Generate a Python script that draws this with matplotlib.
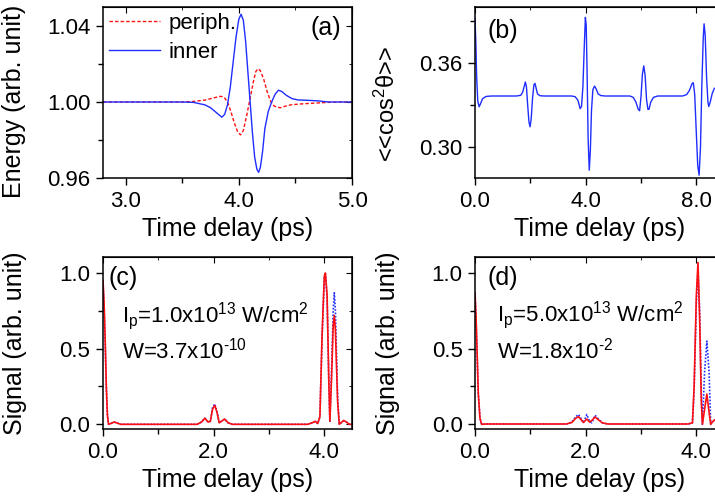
import matplotlib
matplotlib.use("Agg")
import matplotlib.pyplot as plt
from matplotlib.ticker import MultipleLocator

plt.rcParams['font.family'] = ['Liberation Sans', 'DejaVu Sans']
plt.rcParams['mathtext.fontset'] = 'custom'
plt.rcParams['mathtext.rm'] = 'Liberation Sans'
plt.rcParams['mathtext.it'] = 'Liberation Sans:italic'
plt.rcParams['mathtext.default'] = 'regular'

# (a) energy of peripheral / inner molecules
t_a_inner = [2.8, 3.5, 3.6, 3.7, 3.75, 3.8, 3.85, 3.875, 3.9, 3.925, 3.95, 3.975, 4.0, 4.02,
             4.04, 4.06, 4.08, 4.1, 4.12, 4.14, 4.16, 4.175, 4.19, 4.21, 4.23, 4.26, 4.29,
             4.32, 4.35, 4.38, 4.42, 4.47, 4.52, 4.6, 4.7, 4.76, 4.8, 5.0]
e_inner = [1.0, 1.0, 0.9998, 0.9985, 0.997, 0.9945, 0.992, 0.9935, 0.9985, 1.008, 1.021,
           1.034, 1.0435, 1.0462, 1.043, 1.032, 1.016, 1.0, 0.984, 0.971, 0.9645, 0.963,
           0.9655, 0.974, 0.986, 0.995, 1.0, 1.004, 1.0062, 1.0055, 1.0035, 1.0018, 1.0011,
           1.0009, 1.0006, 1.0002, 1.0, 1.0]
t_a_periph = [2.8, 3.5, 3.6, 3.7, 3.78, 3.84, 3.87, 3.9, 3.93, 3.96, 3.99, 4.015, 4.04, 4.07,
              4.1, 4.13, 4.15, 4.17, 4.19, 4.22, 4.25, 4.28, 4.31, 4.34, 4.37, 4.41, 4.46,
              4.55, 4.7, 4.85, 5.0]
e_periph = [1.0, 1.0, 1.0003, 1.001, 1.0022, 1.003, 1.0025, 1.0, 0.995, 0.989, 0.9842,
            0.9827, 0.985, 0.993, 1.002, 1.011, 1.016, 1.0175, 1.0165, 1.012, 1.0055,
            1.0005, 0.998, 0.9972, 0.997, 0.9978, 0.9985, 0.999, 0.9995, 1.0, 1.0]

# (b) alignment <<cos^2 theta>>
t_b = [0.0, 0.03, 0.06, 0.1, 0.15, 0.2, 0.27, 0.4, 0.6, 1.5, 1.65, 1.72, 1.78, 1.82, 1.86,
       1.9, 1.95, 1.99, 2.03, 2.08, 2.13, 2.17, 2.21, 2.26, 2.35, 2.5, 3.5, 3.62, 3.72, 3.8,
       3.85, 3.9, 3.95, 3.99, 4.02, 4.05, 4.09, 4.13, 4.17, 4.21, 4.26, 4.32, 4.38, 4.45,
       4.55, 4.7, 5.6, 5.72, 5.82, 5.9, 5.95, 6.0, 6.05, 6.1, 6.15, 6.2, 6.25, 6.29, 6.35,
       6.45, 6.6, 7.5, 7.65, 7.75, 7.85, 7.89, 7.94, 8.0, 8.05, 8.1, 8.15, 8.2, 8.25, 8.28,
       8.32, 8.37, 8.42, 8.45, 8.5, 8.57, 8.65]
cos2 = [0.392, 0.375, 0.35, 0.333, 0.3288, 0.331, 0.3345, 0.3362, 0.3365, 0.3365, 0.337,
        0.339, 0.3435, 0.3465, 0.343, 0.331, 0.318, 0.3145, 0.32, 0.335, 0.3445, 0.3455,
        0.342, 0.338, 0.3367, 0.3365, 0.3365, 0.336, 0.3335, 0.3275, 0.329, 0.343, 0.372,
        0.3926, 0.387, 0.355, 0.305, 0.2836, 0.298, 0.326, 0.341, 0.3436, 0.3415, 0.338,
        0.3368, 0.3365, 0.3365, 0.3355, 0.332, 0.327, 0.326, 0.336, 0.352, 0.358, 0.351,
        0.334, 0.327, 0.327, 0.332, 0.3355, 0.3365, 0.3365, 0.3375, 0.3405, 0.3455, 0.346,
        0.338, 0.31, 0.287, 0.28, 0.30, 0.345, 0.378, 0.388, 0.38, 0.35, 0.332, 0.329, 0.332,
        0.338, 0.342]

# (c) signal, Ip = 1.0e13 W/cm^2
t_c = [0.0, 0.02, 0.04, 0.06, 0.08, 0.1, 0.14, 0.2, 0.26, 0.32, 1.7, 1.78, 1.84, 1.9, 1.94,
       1.98, 2.02, 2.06, 2.1, 2.14, 2.2, 2.26, 2.34, 3.7, 3.78, 3.84, 3.88, 3.92, 3.96, 4.0,
       4.02, 4.05, 4.08, 4.1, 4.13, 4.16, 4.18, 4.2, 4.24, 4.27, 4.3, 4.35, 4.4, 4.45, 4.5]
sig_c_red = [0.95, 0.8, 0.55, 0.25, 0.06, 0.0, 0.005, 0.015, 0.008, 0.0, 0.0, 0.015, 0.04,
             0.015, 0.02, 0.1, 0.125, 0.08, 0.01, 0.02, 0.035, 0.01, 0.0, 0.0, 0.01, 0.02,
             0.005, 0.05, 0.6, 0.98, 1.0, 0.85, 0.3, 0.02, 0.3, 0.65, 0.72, 0.62, 0.15, 0.0,
             0.01, 0.025, 0.015, 0.0, 0.0]
sig_c_blue = [0.93, 0.78, 0.53, 0.24, 0.06, 0.0, 0.005, 0.015, 0.008, 0.0, 0.0, 0.015, 0.04,
              0.015, 0.02, 0.11, 0.135, 0.085, 0.01, 0.02, 0.035, 0.01, 0.0, 0.0, 0.01, 0.02,
              0.005, 0.05, 0.58, 0.97, 0.99, 0.84, 0.3, 0.02, 0.35, 0.75, 0.87, 0.75, 0.18,
              0.0, 0.01, 0.025, 0.015, 0.0, 0.0]

# (d) signal, Ip = 5.0e13 W/cm^2
t_d = [0.0, 0.02, 0.04, 0.06, 0.09, 0.12, 0.2, 1.65, 1.75, 1.82, 1.87, 1.92, 1.96, 2.02,
       2.07, 2.11, 2.17, 2.23, 2.3, 2.4, 3.85, 3.93, 3.96, 4.0, 4.03, 4.06, 4.09, 4.11, 4.15,
       4.19, 4.23, 4.26, 4.3, 4.34, 4.4, 4.5]
sig_d_red = [0.87, 0.7, 0.45, 0.2, 0.04, 0.0, 0.002, 0.002, 0.012, 0.04, 0.05, 0.03, 0.012,
             0.035, 0.015, 0.025, 0.048, 0.03, 0.01, 0.002, 0.002, 0.01, 0.25, 0.85, 1.07,
             0.7, 0.15, 0.0, 0.1, 0.2, 0.08, 0.0, 0.02, 0.03, 0.01, 0.0]
sig_d_blue = [0.85, 0.68, 0.44, 0.2, 0.04, 0.0, 0.002, 0.002, 0.015, 0.05, 0.065, 0.035,
              0.01, 0.065, 0.02, 0.01, 0.06, 0.035, 0.01, 0.002, 0.002, 0.01, 0.22, 0.8,
              1.02, 0.75, 0.2, 0.0, 0.35, 0.55, 0.35, 0.0, 0.02, 0.03, 0.01, 0.0]

red = '#ff1010'
blue = '#1f2dff'
W, H = 715, 501


def make_ax(left, top, right, bottom):
    return fig.add_axes([left / W, 1 - bottom / H, (right - left) / W, (bottom - top) / H])


def style(ax, xmaj, xmin, ymaj, ymin):
    ax.xaxis.set_major_locator(MultipleLocator(xmaj))
    ax.xaxis.set_minor_locator(MultipleLocator(xmin))
    ax.yaxis.set_major_locator(MultipleLocator(ymaj))
    ax.yaxis.set_minor_locator(MultipleLocator(ymin))
    ax.tick_params(which='both', direction='out', labelsize=16, width=1, pad=4)
    ax.tick_params(which='major', length=5)
    ax.tick_params(which='minor', length=3.5)
    for s in ax.spines.values():
        s.set_linewidth(1.1)
    # mirrored ticks pointing inward on top and right
    top = ax.secondary_xaxis('top')
    right = ax.secondary_yaxis('right')
    for sec, axis in ((top, top.xaxis), (right, right.yaxis)):
        axis.set_major_locator(MultipleLocator(xmaj if sec is top else ymaj))
        axis.set_minor_locator(MultipleLocator(xmin if sec is top else ymin))
        sec.tick_params(which='both', direction='in', labelleft=False, labelright=False,
                        labeltop=False, labelbottom=False)
        sec.tick_params(which='major', length=4)
        sec.tick_params(which='minor', length=2.5)
    ax.set_xlabel('Time delay (ps)', fontsize=18, labelpad=4)


fig = plt.figure(figsize=(W / 100, H / 100), dpi=100)

# (a)
ax = make_ax(103, 7, 352, 178)
ax.plot(t_a_periph, e_periph, color=red, ls=(0, (2.5, 1.5)), lw=1.0, label='periph.')
ax.plot(t_a_inner, e_inner, color=blue, lw=1.0, label='inner')
ax.set_xlim(2.8, 5.0)
ax.set_ylim(0.96, 1.05)
style(ax, 1.0, 0.5, 0.04, 0.02)
ax.xaxis.set_major_formatter('{x:.1f}')
ax.yaxis.set_major_formatter('{x:.2f}')
ax.set_ylabel('Energy (arb. unit)', fontsize=18)
ax.yaxis.set_label_coords(-0.31, 0.45)
ax.legend(loc='upper left', bbox_to_anchor=(0.0, 1.0), frameon=False, fontsize=16,
          handlelength=2.3, handletextpad=0.4, borderpad=0.25, borderaxespad=0.0,
          labelspacing=0.38)
ax.text(0.895, 0.88, '(a)', transform=ax.transAxes, fontsize=18, ha='center', va='center')

# (b)
ax = make_ax(475, 7, 724, 178)
ax.plot(t_b, cos2, color=blue, lw=1.0)
ax.set_xlim(0, 9.0)
ax.set_ylim(0.278, 0.40)
style(ax, 4.0, 2.0, 0.06, 0.03)
ax.xaxis.set_major_formatter('{x:.1f}')
ax.yaxis.set_major_formatter('{x:.2f}')
ax.set_ylabel('<<cos$^2$θ>>', fontsize=17)
ax.yaxis.set_label_coords(-0.30, 0.43)
ax.text(0.11, 0.86, '(b)', transform=ax.transAxes, fontsize=18, ha='center', va='center')

# (c)
ax = make_ax(103, 257, 352, 429)
ax.plot(t_c, sig_c_blue, color=blue, ls=(0, (1, 1)), lw=1.2)
ax.plot(t_c, sig_c_red, color=red, lw=1.2)
ax.set_xlim(0, 4.5)
ax.set_ylim(-0.031, 1.106)
style(ax, 2.0, 1.0, 0.5, 0.25)
ax.xaxis.set_major_formatter('{x:.1f}')
ax.yaxis.set_major_formatter('{x:.1f}')
ax.set_ylabel('Signal (arb. unit)', fontsize=18)
ax.yaxis.set_label_coords(-0.305, 0.5)
ax.text(0.08, 0.88, '(c)', transform=ax.transAxes, fontsize=18, ha='center', va='center')
ax.text(0.075, 0.655, 'I$_p$=1.0x10$^{13}$ W/cm$^2$', transform=ax.transAxes, fontsize=16,
        ha='left', va='center')
ax.text(0.075, 0.455, 'W=3.7x10$^{\u201010}$', transform=ax.transAxes, fontsize=16,
        ha='left', va='center')

# (d)
ax = make_ax(475, 257, 724, 429)
ax.plot(t_d, sig_d_blue, color=blue, ls=(0, (1, 1)), lw=1.2)
ax.plot(t_d, sig_d_red, color=red, lw=1.2)
ax.set_xlim(0, 4.5)
ax.set_ylim(-0.031, 1.106)
style(ax, 2.0, 1.0, 0.5, 0.25)
ax.xaxis.set_major_formatter('{x:.1f}')
ax.yaxis.set_major_formatter('{x:.1f}')
ax.set_ylabel('Signal (arb. unit)', fontsize=18)
ax.yaxis.set_label_coords(-0.30, 0.5)
ax.text(0.11, 0.88, '(d)', transform=ax.transAxes, fontsize=18, ha='center', va='center')
ax.text(0.09, 0.665, 'I$_p$=5.0x10$^{13}$ W/cm$^2$', transform=ax.transAxes, fontsize=16,
        ha='left', va='center')
ax.text(0.09, 0.455, 'W=1.8x10$^{\u20102}$', transform=ax.transAxes, fontsize=16,
        ha='left', va='center')

fig.savefig('out.png', dpi=100)
